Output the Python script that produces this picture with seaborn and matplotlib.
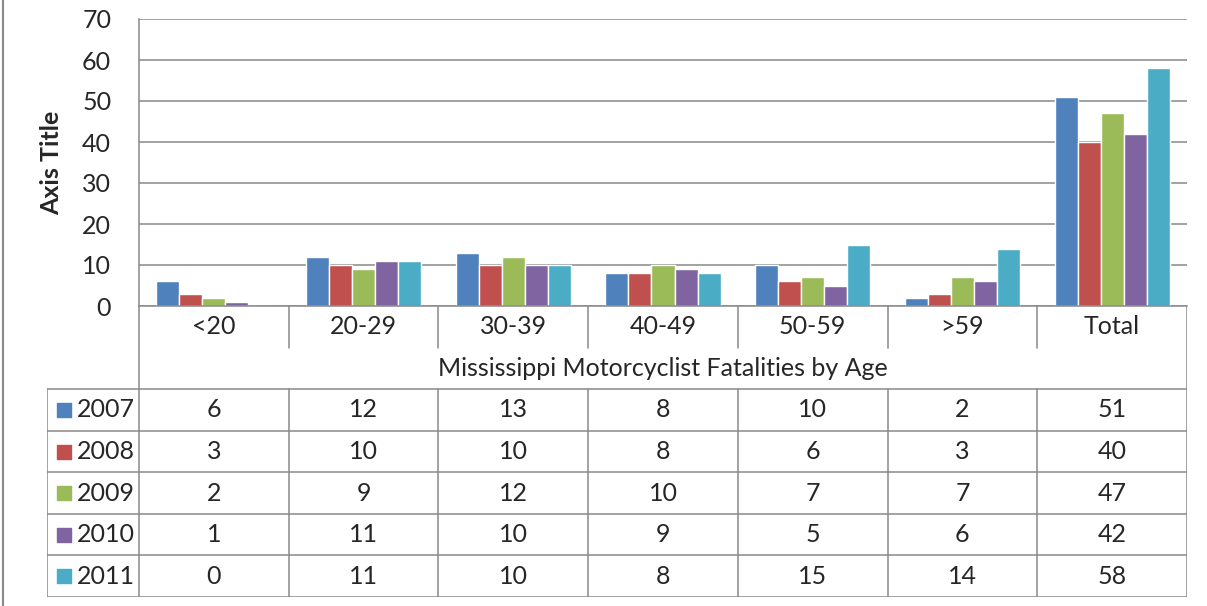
import pandas as pd
import seaborn as sns
import matplotlib.pyplot as plt
from matplotlib.lines import Line2D

# data
ages = ['<20', '20-29', '30-39', '40-49', '50-59', '>59', 'Total']
years = ['2007', '2008', '2009', '2010', '2011']
v2007 = [6, 12, 13, 8, 10, 2, 51]
v2008 = [3, 10, 10, 8, 6, 3, 40]
v2009 = [2, 9, 12, 10, 7, 7, 47]
v2010 = [1, 11, 10, 9, 5, 6, 42]
v2011 = [0, 11, 10, 8, 15, 14, 58]
colors = ['#4F81BD', '#C0504D', '#9BBB59', '#8064A2', '#4BACC6']

series = [v2007, v2008, v2009, v2010, v2011]
rows = []
for y, vals in zip(years, series):
    for a, v in zip(ages, vals):
        rows.append({'Age': a, 'Year': y, 'Fatalities': v})
df = pd.DataFrame(rows)

sns.set_style('white')
plt.rcParams['font.family'] = ['Lato', 'DejaVu Sans']

W, H = 1207, 606
fig = plt.figure(figsize=(W / 100, H / 100), dpi=100)
line_c = '#898989'
fs = 18

# bar area
ax = fig.add_axes([139 / W, (H - 306) / H, (1187 - 139) / W, (306 - 19) / H])
sns.barplot(data=df, x='Age', y='Fatalities', hue='Year', palette=colors,
            width=0.77, gap=0, saturation=1, ax=ax, legend=False)
ax.set_xlim(-0.5, 6.5)
ax.set_ylim(0, 70)
ax.set_yticks(range(0, 71, 10))
ax.yaxis.grid(True, color=line_c, linewidth=1.1)
ax.set_axisbelow(True)
ax.tick_params(axis='y', length=0, labelsize=fs, pad=20)
ax.set_xticks([])
ax.set_xlabel('')
ax.set_ylabel('Axis Title', fontsize=fs, fontweight='bold', labelpad=14)
for s in ['top', 'right']:
    ax.spines[s].set_visible(False)
for s in ['left', 'bottom']:
    ax.spines[s].set_color(line_c)
    ax.spines[s].set_linewidth(1.1)

# data table below
left_x = -0.5 - 92 / 149.8
tx = fig.add_axes([47 / W, (H - 597) / H, (1187 - 47) / W, 291 / H])
tx.set_xlim(left_x, 6.5)
tx.set_ylim(7, 0)
tx.axis('off')
kw = dict(color=line_c, linewidth=1.1)
tx.add_line(Line2D([-0.5, -0.5], [0, 7], **kw))
tx.add_line(Line2D([6.5, 6.5], [0, 7], **kw))
tx.add_line(Line2D([left_x, left_x], [2, 7], **kw))
for i in range(6):
    tx.add_line(Line2D([i + 0.5, i + 0.5], [0, 1], **kw))
    tx.add_line(Line2D([i + 0.5, i + 0.5], [2, 7], **kw))
for r in range(2, 8):
    tx.add_line(Line2D([left_x, 6.5], [r, r], **kw))

for i, a in enumerate(ages):
    tx.text(i, 0.5, a, ha='center', va='center', fontsize=fs)
tx.text(3, 1.5, 'Mississippi Motorcyclist Fatalities by Age',
        ha='center', va='center', fontsize=fs)
for r, (y, vals, c) in enumerate(zip(years, series, colors)):
    yy = r + 2.5
    tx.scatter([left_x + 0.115], [yy], marker='s', s=115, color=c)
    tx.text(left_x + 0.2, yy, y, ha='left', va='center', fontsize=fs)
    for i, v in enumerate(vals):
        tx.text(i, yy, str(v), ha='center', va='center', fontsize=fs)

# chart frame line on the left
fig.add_artist(Line2D([2.5 / W, 2.5 / W], [0, 1], color=line_c, linewidth=1.5))

fig.savefig('out.png', dpi=100)
